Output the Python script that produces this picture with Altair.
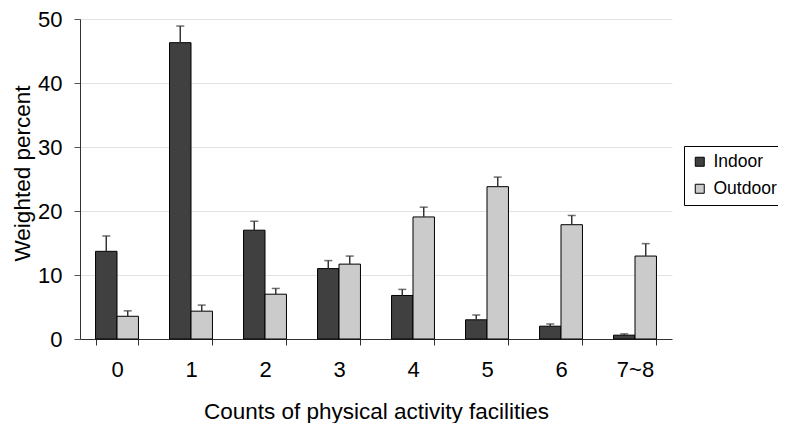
import altair as alt
import pandas as pd

categories = ["0", "1", "2", "3", "4", "5", "6", "7~8"]
indoor = [13.7, 46.3, 17.0, 11.0, 6.8, 3.0, 2.0, 0.6]
indoor_err = [16.1, 48.9, 18.4, 12.25, 7.75, 3.75, 2.35, 0.8]
outdoor = [3.55, 4.35, 7.0, 11.7, 19.07, 23.8, 17.86, 12.96]
outdoor_err = [4.4, 5.3, 7.9, 12.96, 20.6, 25.3, 19.3, 14.9]
series = ["Indoor", "Outdoor"]
colors = ["#404040", "#cbcbcb"]

rows = []
for i, c in enumerate(categories):
    rows.append({"cat": c, "series": "Indoor", "value": indoor[i], "upper": indoor_err[i]})
    rows.append({"cat": c, "series": "Outdoor", "value": outdoor[i], "upper": outdoor_err[i]})
df = pd.DataFrame(rows)

FONT = "Liberation Sans"

x = alt.X("cat:N", sort=categories,
          scale=alt.Scale(paddingInner=0.42, paddingOuter=0.21),
          axis=alt.Axis(title="Counts of physical activity facilities", labelAngle=0,
                        tickBand="extent", grid=False, tickSize=6,
                        labelPadding=14, labelFontSize=22, titleFontSize=22.5,
                        titleFontWeight="normal", titleY=79, titleBaseline="alphabetic",
                        domainColor="#333333", tickColor="#333333",
                        labelColor="#000000", titleColor="#000000"))
xo = alt.XOffset("series:N", sort=series, scale=alt.Scale(paddingInner=0, paddingOuter=0))
y = alt.Y("value:Q", scale=alt.Scale(domain=[0, 50], nice=False),
          axis=alt.Axis(title="Weighted percent", values=[0, 10, 20, 30, 40, 50],
                        tickSize=6, labelPadding=12, labelFontSize=22, titleFontSize=22.5,
                        titleFontWeight="normal", titleX=-58, titleY=154,
                        titleAngle=-90, titleAlign="center", titleBaseline="middle",
                        grid=True, gridColor="#e2e2e2", gridWidth=1,
                        domainColor="#333333", tickColor="#555555",
                        labelColor="#000000", titleColor="#000000"))

bars = alt.Chart(df).mark_bar(stroke="#000000", strokeWidth=1).encode(
    x=x, xOffset=xo, y=y,
    color=alt.Color("series:N", sort=series,
                    scale=alt.Scale(domain=series, range=colors),
                    legend=alt.Legend(title=None, orient="none", legendX=604, legendY=127,
                                      strokeColor="#000000", fillColor="#ffffff",
                                      padding=7, rowPadding=8, labelFontSize=17.5,
                                      labelFont=FONT, labelColor="#000000",
                                      symbolType="square", symbolSize=81,
                                      symbolStrokeColor="#000000", symbolStrokeWidth=1,
                                      labelOffset=5)),
)

rules = alt.Chart(df).mark_rule(color="#333333", strokeWidth=1.5).encode(
    x=alt.X("cat:N", sort=categories), xOffset=xo,
    y="value:Q", y2="upper:Q",
)
caps = alt.Chart(df).mark_tick(color="#333333", size=8, thickness=1.5).encode(
    x=alt.X("cat:N", sort=categories), xOffset=xo,
    y="upper:Q",
)

chart = alt.layer(bars, rules, caps).properties(
    width=592, height=320,
    autosize=alt.AutoSizeParams(type="none"),
    padding={"left": 72, "top": 11, "right": 106, "bottom": 84},
).configure(font=FONT).configure_view(stroke=None)

chart.save("out.html", embed_options={"renderer": "svg", "actions": False})
